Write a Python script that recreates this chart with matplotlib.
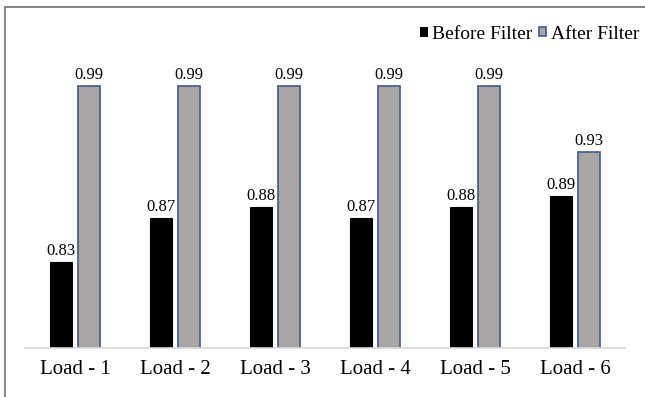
import matplotlib.pyplot as plt
import numpy as np
from matplotlib.patches import Rectangle

plt.rcParams['font.family'] = ['Liberation Serif', 'DejaVu Serif']

# data
loads = ["Load - 1", "Load - 2", "Load - 3", "Load - 4", "Load - 5", "Load - 6"]
before = [0.83, 0.87, 0.88, 0.87, 0.88, 0.89]
after = [0.99, 0.99, 0.99, 0.99, 0.99, 0.93]

W, H = 645, 397
fig = plt.figure(figsize=(W / 100, H / 100), dpi=100)
ax = fig.add_axes([25 / W, 1 - 348 / H, 600 / W, 298 / H])

x = np.arange(len(loads))
bw = 0.22
b1 = ax.bar(x - 0.14, before, bw, color="black", edgecolor="black", linewidth=0.8,
            label="Before Filter")
b2 = ax.bar(x + 0.14, after, bw, color="#aaa6a6", edgecolor="#3f5a8c", linewidth=1.2,
            label="After Filter")

for bars, vals in ((b1, before), (b2, after)):
    for r, v in zip(bars, vals):
        ax.text(r.get_x() + r.get_width() / 2, v + 0.003, "%.2f" % v,
                ha="center", va="bottom", fontsize=12)

ax.set_xlim(-0.5, 5.5)
ax.set_ylim(0.752, 0.752 + 298 / 1100)
ax.set_xticks(x)
ax.set_xticklabels(loads, fontsize=15)
ax.tick_params(axis="x", length=0, pad=9)
ax.set_yticks([])
for s in ("top", "right", "left"):
    ax.spines[s].set_visible(False)
ax.spines["bottom"].set_color("#d9d9d9")
ax.spines["bottom"].set_linewidth(1.2)

leg = fig.legend(loc="upper right", bbox_to_anchor=(1.003, 0.955), ncol=2, frameon=False,
                 fontsize=14, handlelength=0.35, handleheight=0.35, handletextpad=0.25,
                 columnspacing=0.35, borderaxespad=0)

# outer chart frame
fig.patches.append(Rectangle((5 / W, -0.1), 1.2, 1 - 7 / H + 0.1, transform=fig.transFigure,
                             fill=False, edgecolor="#6f6f6f", linewidth=1.2))

fig.savefig("out.png", dpi=100)
